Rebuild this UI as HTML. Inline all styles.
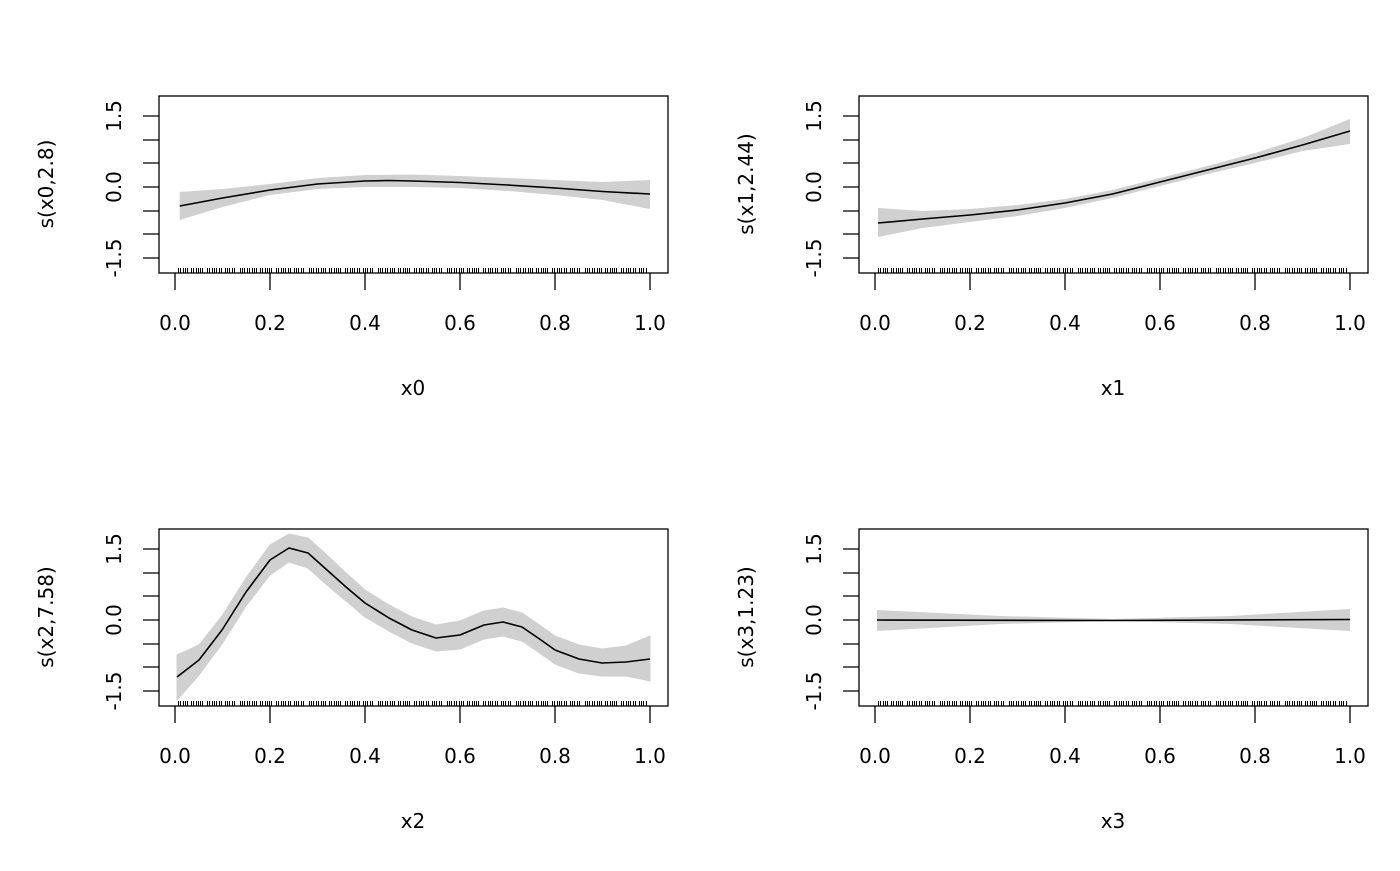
<!DOCTYPE html>
<html><head><meta charset="utf-8"><style>
html,body{margin:0;padding:0;background:#fff;}
svg text{font-family:"DejaVu Sans","Liberation Sans",sans-serif;font-size:20px;fill:#000;}
</style></head><body>
<svg width="1400" height="866" xmlns="http://www.w3.org/2000/svg">
<defs>
<g id="yax">
  <path d="M143 116H159M143 140H159M143 163H159M143 187H159M143 211H159M143 234H159M143 258H159" stroke="#000" stroke-width="1.3"/>
  <text transform="translate(121,116) rotate(-90)" text-anchor="middle">1.5</text>
  <text transform="translate(121,187) rotate(-90)" text-anchor="middle">0.0</text>
  <text transform="translate(121,258) rotate(-90)" text-anchor="middle">-1.5</text>
  <path d="M175 273V290M270 273V290M365 273V290M460 273V290M555 273V290M650 273V290" stroke="#000" stroke-width="1.3"/>
  <text x="175" y="330" text-anchor="middle">0.0</text>
  <text x="270" y="330" text-anchor="middle">0.2</text>
  <text x="365" y="330" text-anchor="middle">0.4</text>
  <text x="460" y="330" text-anchor="middle">0.6</text>
  <text x="555" y="330" text-anchor="middle">0.8</text>
  <text x="650" y="330" text-anchor="middle">1.0</text>
  <rect x="159" y="96" width="509" height="177" fill="none" stroke="#000" stroke-width="1.3"/>
  <line x1="178" y1="270.5" x2="648" y2="270.5" stroke="#000" stroke-width="5" stroke-dasharray="1 1 1 2 1 1 1 1 1 3 1 1 1 2 1 1 1 1 1 1 1 4 1 1 1 2 1 1 1 1 1 2 1 1 1 3 1 1 1 1 1 2 1 1 1 5 1 1 1 1 1 2"/>
</g>
</defs>

<!-- Panel 1 -->
<use href="#yax"/>
<polygon fill="#d0d0d0" points="179.75,192 222.5,189 270,184 317.5,178 365,175 412.5,174.5 460,176 507.5,178 555,180 602.5,182 650,180 650,209 602.5,200 555,195 507.5,191 460,188 412.5,187 365,187 317.5,189 270,195 222.5,207 179.75,220"/>
<polyline fill="none" stroke="#000" stroke-width="1.6" stroke-linejoin="round" points="179.75,206 222.5,198 270,190 317.5,184 365,181 388.75,180.5 412.5,181 460,182.5 507.5,185 555,188 602.5,191.5 650,194"/>
<text transform="translate(53,184) rotate(-90)" text-anchor="middle">s(x0,2.8)</text>
<text x="413" y="395" text-anchor="middle">x0</text>

<!-- Panel 2 -->
<use href="#yax" x="700"/>
<polygon fill="#d0d0d0" points="878,208 922.5,211 970,209 1017.5,205 1065,199 1112.5,190 1160,178 1207.5,166 1255,153 1302.5,138 1350,119 1350,144 1302.5,151 1255,163 1207.5,174 1160,186 1112.5,198 1065,208 1017.5,216 970,222 922.5,228 878,237"/>
<polyline fill="none" stroke="#000" stroke-width="1.6" stroke-linejoin="round" points="878,223 922.5,219 970,215 1017.5,210 1065,203 1112.5,194 1160,182 1207.5,170 1255,158 1302.5,145 1350,131"/>
<text transform="translate(753,184) rotate(-90)" text-anchor="middle">s(x1,2.44)</text>
<text x="1113" y="395" text-anchor="middle">x1</text>

<!-- Panel 3 -->
<use href="#yax" y="433"/>
<polygon fill="#d0d0d0" stroke="#d0d0d0" stroke-linejoin="round" points="177,655 199,645 222,616 246,578 270,545 289,534 308,538 327,555 346,573 365,590 389,605 412,617 436,625 460,621 484,611 503,608 522,613 541,626 555,636 579,645 602,649 626,646 650,636 650,681 626,676 602,676 579,673 555,664 541,654 522,641 503,636 484,639 460,649 436,651 412,643 389,631 365,617 346,601 327,585 308,568 289,562 270,575 246,606 222,644 199,675 177,700"/>
<polyline fill="none" stroke="#000" stroke-width="1.6" stroke-linejoin="round" points="177,677 199,660 222,630 246,592 270,560 289,548 308,553 327,570 346,587 365,603 389,618 412,630 436,638 460,635 484,625 503,622 522,627 541,640 555,650 579,659 602,663 626,662 650,659"/>
<text transform="translate(53,617) rotate(-90)" text-anchor="middle">s(x2,7.58)</text>
<text x="413" y="828" text-anchor="middle">x2</text>

<!-- Panel 4 -->
<use href="#yax" x="700" y="433"/>
<polygon fill="#d0d0d0" points="877,610 1000,616 1112,619 1230,616 1350,609 1350,631 1230,624 1112,621 1000,624 877,631"/>
<polyline fill="none" stroke="#000" stroke-width="1.6" points="877,620 1112,620.5 1350,619.5"/>
<text transform="translate(753,617) rotate(-90)" text-anchor="middle">s(x3,1.23)</text>
<text x="1113" y="828" text-anchor="middle">x3</text>
</svg>
</body></html>
